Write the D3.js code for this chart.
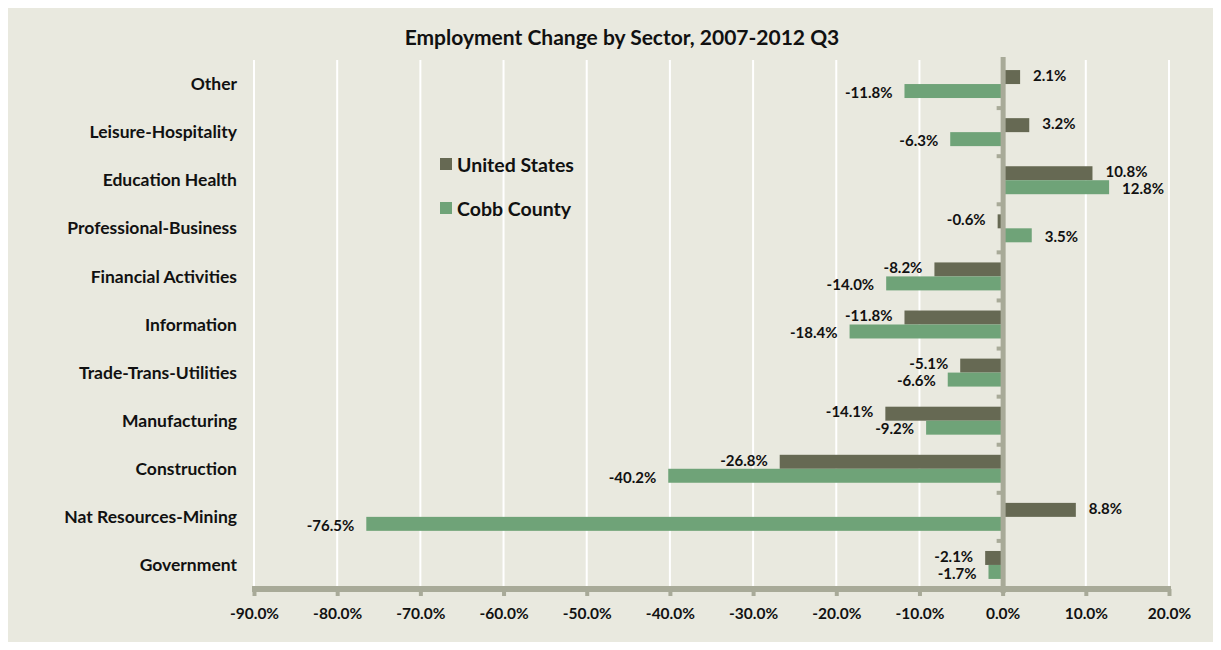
<!DOCTYPE html>
<html><head><meta charset="utf-8">
<script src="https://cdn.jsdelivr.net/npm/d3@7"></script>
<style>
html,body{margin:0;padding:0;background:#fff;}
text{font-family:Lato,"Open Sans",sans-serif;font-weight:bold;fill:#111;}
</style></head>
<body><svg id="c" width="1221" height="650"></svg>
<script>
const categories = ["Other","Leisure-Hospitality","Education Health","Professional-Business","Financial Activities","Information","Trade-Trans-Utilities","Manufacturing","Construction","Nat Resources-Mining","Government"];
const unitedStates = [2.1, 3.2, 10.8, -0.6, -8.2, -11.8, -5.1, -14.1, -26.8, 8.8, -2.1];
const cobbCounty = [-11.8, -6.3, 12.8, 3.5, -14.0, -18.4, -6.6, -9.2, -40.2, -76.5, -1.7];
const seriesNames = ["United States","Cobb County"];
const tickValues = [-90,-80,-70,-60,-50,-40,-30,-20,-10,0,10,20];
const title = "Employment Change by Sector, 2007-2012 Q3";

const colors = {"United States":"#666953","Cobb County":"#6fa378"};
const bg = "#e9e9df", axisCol = "#a8aa98";

const svg = d3.select("#c");
svg.append("rect").attr("x",8).attr("y",8).attr("width",1205).attr("height",634).attr("fill",bg);

const plotTop = 60, plotBottom = 589;
const x = d3.scaleLinear().domain([-90,20]).range([254,1169]);
const y = d3.scaleBand().domain(categories).range([plotTop,plotBottom]).padding(0);
const yi = d3.scaleBand().domain(seriesNames).range([0,y.bandwidth()]).paddingInner(0).paddingOuter(0.72);

// gridlines
svg.append("g").selectAll("line").data(tickValues.filter(v=>v!==0)).join("line")
  .attr("x1",d=>x(d)).attr("x2",d=>x(d)).attr("y1",plotTop).attr("y2",plotBottom-2)
  .attr("stroke","#fff").attr("stroke-width",2);

// title
svg.append("text").attr("x",622).attr("y",45).attr("text-anchor","middle")
  .style("font-size","21px").text(title);

const rows = categories.map((c,i)=>({cat:c, vals:[{s:"United States",v:unitedStates[i]},{s:"Cobb County",v:cobbCounty[i]}]}));

const g = svg.append("g");
rows.forEach(r=>{
  r.vals.forEach((d,k)=>{
    const y0 = y(r.cat)+yi(d.s);
    g.append("rect").attr("x",x(Math.min(0,d.v))).attr("width",Math.abs(x(d.v)-x(0)))
      .attr("y",y0).attr("height",yi.bandwidth()).attr("fill",colors[d.s]);
    const neg = d.v<0;
    g.append("text").attr("x", neg ? x(d.v)-12 : x(d.v)+13)
      .attr("y", y0+yi.bandwidth()/2 + (k===0?-1.5:1.5)).attr("dy","0.35em")
      .attr("text-anchor", neg?"end":"start").style("font-size","15px")
      .text(d.v.toFixed(1)+"%");
  });
});

// category labels
svg.append("g").selectAll("text").data(categories).join("text")
  .attr("x",237).attr("y",d=>y(d)+y.bandwidth()/2).attr("dy","0.35em")
  .attr("text-anchor","end").style("font-size","17.5px").text(d=>d);

// zero axis
svg.append("line").attr("x1",x(0)+0.5).attr("x2",x(0)+0.5).attr("y1",plotTop-3).attr("y2",plotBottom+4)
  .attr("stroke",axisCol).attr("stroke-width",5);
svg.append("g").selectAll("line").data(categories.slice(1)).join("line")
  .attr("x1",x(0)-6).attr("x2",x(0)).attr("y1",d=>y(d)).attr("y2",d=>y(d))
  .attr("stroke",axisCol).attr("stroke-width",4);

// bottom axis
const ax = svg.append("g").attr("transform",`translate(0,${plotBottom})`)
  .call(d3.axisBottom(x).tickValues(tickValues).tickSizeOuter(0).tickSize(7).tickFormat(d=>d.toFixed(1)+"%"));
ax.select(".domain").attr("stroke",axisCol).attr("stroke-width",6).attr("d",`M${x(-90)-2},0H${x(20)+2}`);
ax.selectAll(".tick line").attr("stroke",axisCol).attr("stroke-width",4);
ax.selectAll(".tick text").attr("y",19).style("font-size","15.5px").style("font-family","Lato,sans-serif").style("font-weight","bold").attr("fill","#111");

// legend
const leg = svg.append("g");
seriesNames.forEach((s,i)=>{
  const ly = 164 + i*44;
  leg.append("rect").attr("x",440).attr("y",ly-6).attr("width",12).attr("height",12).attr("fill",colors[s]);
  leg.append("text").attr("x",457).attr("y",ly+1).attr("dy","0.35em").style("font-size","19.5px").text(s);
});
</script></body></html>
